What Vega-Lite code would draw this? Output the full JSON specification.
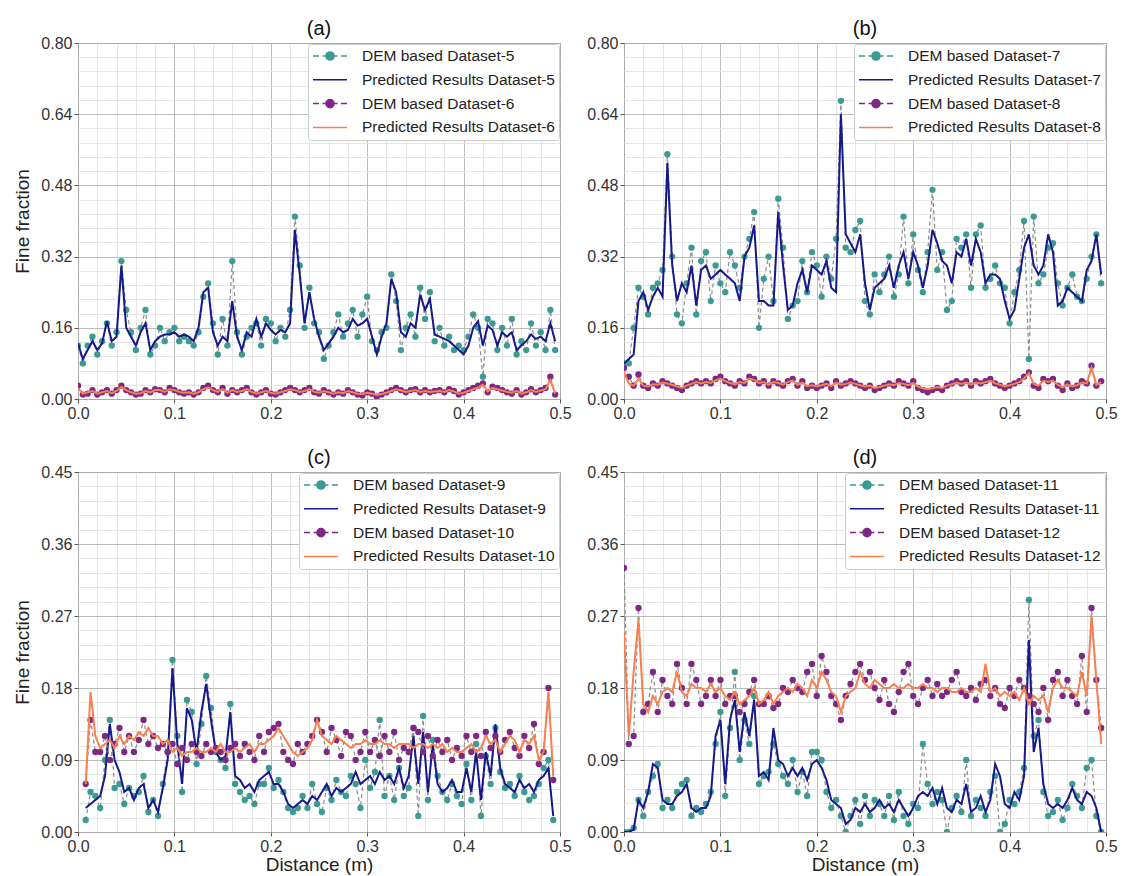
{
"$schema":"https://vega.github.io/schema/vega-lite/v6.json",
"background":"white",
"padding":{"left":13,"top":18,"right":10,"bottom":0},
"columns":2,
"spacing":{"row":73,"column":64},
"bounds":"flush",
"resolve":{"scale":{"color":"independent"},"legend":{"color":"independent"}},
"config":{
 "font":"Liberation Sans",
 "view":{"stroke":"#5a5a5a","strokeWidth":1},
 "axis":{"labelFont":"Liberation Sans","labelFontSize":16,"labelColor":"#333333","titleFont":"Liberation Sans","titleFontSize":19,"titleFontWeight":"normal","titleColor":"#222222","tickColor":"#555555","tickSize":4,"labelPadding":2,"domain":false,"gridColor":"#b4b4b4","gridWidth":0.9,"titlePadding":8},
 "title":{"font":"Liberation Sans","fontSize":20,"fontWeight":"normal","color":"#111111","offset":-4},
 "legend":{"orient":"top-right","offset":1,"fillColor":"#ffffff","strokeColor":"#cccccc","cornerRadius":3,"padding":4,"labelFont":"Liberation Sans","labelFontSize":15.5,"labelColor":"#222222","labelLimit":0,"symbolSize":1156,"clipHeight":16,"rowPadding":6.8,"labelOffset":14,"symbolStrokeWidth":1.5}
},
"datasets":{
"na":[{"k":"A","series":"DEM based Dataset-5"},{"k":"B","series":"Predicted Results Dataset-5"},{"k":"C","series":"DEM based Dataset-6"},{"k":"D","series":"Predicted Results Dataset-6"}],
"nb":[{"k":"A","series":"DEM based Dataset-7"},{"k":"B","series":"Predicted Results Dataset-7"},{"k":"C","series":"DEM based Dataset-8"},{"k":"D","series":"Predicted Results Dataset-8"}],
"nc":[{"k":"A","series":"DEM based Dataset-9"},{"k":"B","series":"Predicted Results Dataset-9"},{"k":"C","series":"DEM based Dataset-10"},{"k":"D","series":"Predicted Results Dataset-10"}],
"nd":[{"k":"A","series":"DEM based Dataset-11"},{"k":"B","series":"Predicted Results Dataset-11"},{"k":"C","series":"DEM based Dataset-12"},{"k":"D","series":"Predicted Results Dataset-12"}],
"a":[
{"x":0,"A":0.12,"B":0.125,"C":0.03,"D":0.025},
{"x":0.005,"A":0.08,"B":0.09,"C":0.01,"D":0.012},
{"x":0.01,"A":0.12,"B":0.11,"C":0.012,"D":0.015},
{"x":0.015,"A":0.14,"B":0.13,"C":0.02,"D":0.018},
{"x":0.02,"A":0.10,"B":0.11,"C":0.01,"D":0.012},
{"x":0.025,"A":0.13,"B":0.125,"C":0.015,"D":0.015},
{"x":0.03,"A":0.17,"B":0.175,"C":0.02,"D":0.018},
{"x":0.035,"A":0.12,"B":0.13,"C":0.012,"D":0.013},
{"x":0.04,"A":0.15,"B":0.14,"C":0.02,"D":0.018},
{"x":0.045,"A":0.31,"B":0.30,"C":0.03,"D":0.027},
{"x":0.05,"A":0.20,"B":0.16,"C":0.02,"D":0.02},
{"x":0.055,"A":0.15,"B":0.14,"C":0.015,"D":0.015},
{"x":0.06,"A":0.11,"B":0.12,"C":0.01,"D":0.012},
{"x":0.065,"A":0.16,"B":0.15,"C":0.012,"D":0.013},
{"x":0.07,"A":0.20,"B":0.17,"C":0.02,"D":0.018},
{"x":0.075,"A":0.10,"B":0.11,"C":0.015,"D":0.015},
{"x":0.08,"A":0.12,"B":0.13,"C":0.022,"D":0.02},
{"x":0.085,"A":0.16,"B":0.14,"C":0.02,"D":0.02},
{"x":0.09,"A":0.13,"B":0.145,"C":0.015,"D":0.016},
{"x":0.095,"A":0.15,"B":0.145,"C":0.025,"D":0.022},
{"x":0.1,"A":0.16,"B":0.15,"C":0.02,"D":0.02},
{"x":0.105,"A":0.13,"B":0.14,"C":0.015,"D":0.016},
{"x":0.11,"A":0.14,"B":0.145,"C":0.012,"D":0.014},
{"x":0.115,"A":0.13,"B":0.14,"C":0.015,"D":0.015},
{"x":0.12,"A":0.12,"B":0.13,"C":0.01,"D":0.012},
{"x":0.125,"A":0.15,"B":0.16,"C":0.015,"D":0.015},
{"x":0.13,"A":0.23,"B":0.24,"C":0.025,"D":0.022},
{"x":0.135,"A":0.26,"B":0.25,"C":0.03,"D":0.026},
{"x":0.14,"A":0.17,"B":0.15,"C":0.02,"D":0.02},
{"x":0.145,"A":0.10,"B":0.12,"C":0.015,"D":0.016},
{"x":0.15,"A":0.18,"B":0.14,"C":0.025,"D":0.022},
{"x":0.155,"A":0.12,"B":0.13,"C":0.012,"D":0.014},
{"x":0.16,"A":0.31,"B":0.22,"C":0.02,"D":0.02},
{"x":0.165,"A":0.15,"B":0.14,"C":0.015,"D":0.016},
{"x":0.17,"A":0.10,"B":0.11,"C":0.02,"D":0.018},
{"x":0.175,"A":0.14,"B":0.15,"C":0.025,"D":0.022},
{"x":0.18,"A":0.16,"B":0.14,"C":0.015,"D":0.016},
{"x":0.185,"A":0.17,"B":0.18,"C":0.01,"D":0.012},
{"x":0.19,"A":0.12,"B":0.14,"C":0.015,"D":0.015},
{"x":0.195,"A":0.18,"B":0.17,"C":0.02,"D":0.018},
{"x":0.2,"A":0.17,"B":0.155,"C":0.012,"D":0.014},
{"x":0.205,"A":0.13,"B":0.145,"C":0.01,"D":0.012},
{"x":0.21,"A":0.16,"B":0.155,"C":0.015,"D":0.015},
{"x":0.215,"A":0.14,"B":0.15,"C":0.02,"D":0.018},
{"x":0.22,"A":0.20,"B":0.17,"C":0.025,"D":0.022},
{"x":0.225,"A":0.41,"B":0.38,"C":0.02,"D":0.02},
{"x":0.23,"A":0.30,"B":0.28,"C":0.015,"D":0.016},
{"x":0.235,"A":0.16,"B":0.17,"C":0.02,"D":0.018},
{"x":0.24,"A":0.25,"B":0.24,"C":0.025,"D":0.022},
{"x":0.245,"A":0.17,"B":0.18,"C":0.015,"D":0.016},
{"x":0.25,"A":0.15,"B":0.14,"C":0.012,"D":0.014},
{"x":0.255,"A":0.09,"B":0.11,"C":0.02,"D":0.018},
{"x":0.26,"A":0.12,"B":0.125,"C":0.015,"D":0.015},
{"x":0.265,"A":0.15,"B":0.14,"C":0.01,"D":0.012},
{"x":0.27,"A":0.19,"B":0.16,"C":0.015,"D":0.015},
{"x":0.275,"A":0.14,"B":0.15,"C":0.012,"D":0.013},
{"x":0.28,"A":0.17,"B":0.155,"C":0.02,"D":0.018},
{"x":0.285,"A":0.20,"B":0.18,"C":0.015,"D":0.015},
{"x":0.29,"A":0.14,"B":0.165,"C":0.01,"D":0.012},
{"x":0.295,"A":0.19,"B":0.17,"C":0.008,"D":0.011},
{"x":0.3,"A":0.23,"B":0.18,"C":0.015,"D":0.014},
{"x":0.305,"A":0.13,"B":0.14,"C":0.012,"D":0.012},
{"x":0.31,"A":0.11,"B":0.10,"C":0.005,"D":0.009},
{"x":0.315,"A":0.15,"B":0.14,"C":0.01,"D":0.011},
{"x":0.32,"A":0.16,"B":0.17,"C":0.015,"D":0.014},
{"x":0.325,"A":0.28,"B":0.27,"C":0.02,"D":0.018},
{"x":0.33,"A":0.22,"B":0.24,"C":0.025,"D":0.022},
{"x":0.335,"A":0.11,"B":0.15,"C":0.02,"D":0.019},
{"x":0.34,"A":0.16,"B":0.14,"C":0.015,"D":0.016},
{"x":0.345,"A":0.19,"B":0.17,"C":0.02,"D":0.018},
{"x":0.35,"A":0.14,"B":0.16,"C":0.022,"D":0.02},
{"x":0.355,"A":0.25,"B":0.235,"C":0.015,"D":0.016},
{"x":0.36,"A":0.18,"B":0.20,"C":0.02,"D":0.018},
{"x":0.365,"A":0.24,"B":0.225,"C":0.015,"D":0.016},
{"x":0.37,"A":0.13,"B":0.145,"C":0.018,"D":0.017},
{"x":0.375,"A":0.16,"B":0.14,"C":0.02,"D":0.018},
{"x":0.38,"A":0.12,"B":0.135,"C":0.015,"D":0.016},
{"x":0.385,"A":0.14,"B":0.13,"C":0.022,"D":0.02},
{"x":0.39,"A":0.11,"B":0.12,"C":0.018,"D":0.017},
{"x":0.395,"A":0.12,"B":0.11,"C":0.01,"D":0.012},
{"x":0.4,"A":0.11,"B":0.10,"C":0.015,"D":0.014},
{"x":0.405,"A":0.14,"B":0.12,"C":0.02,"D":0.018},
{"x":0.41,"A":0.19,"B":0.16,"C":0.025,"D":0.022},
{"x":0.415,"A":0.16,"B":0.175,"C":0.03,"D":0.026},
{"x":0.42,"A":0.05,"B":0.12,"C":0.035,"D":0.032},
{"x":0.425,"A":0.18,"B":0.165,"C":0.015,"D":0.017},
{"x":0.43,"A":0.17,"B":0.155,"C":0.028,"D":0.025},
{"x":0.435,"A":0.11,"B":0.12,"C":0.025,"D":0.022},
{"x":0.44,"A":0.16,"B":0.15,"C":0.02,"D":0.019},
{"x":0.445,"A":0.12,"B":0.14,"C":0.015,"D":0.016},
{"x":0.45,"A":0.18,"B":0.15,"C":0.012,"D":0.014},
{"x":0.455,"A":0.10,"B":0.11,"C":0.02,"D":0.018},
{"x":0.46,"A":0.13,"B":0.12,"C":0.01,"D":0.012},
{"x":0.465,"A":0.11,"B":0.13,"C":0.015,"D":0.015},
{"x":0.47,"A":0.17,"B":0.145,"C":0.022,"D":0.02},
{"x":0.475,"A":0.12,"B":0.135,"C":0.015,"D":0.016},
{"x":0.48,"A":0.15,"B":0.14,"C":0.02,"D":0.019},
{"x":0.485,"A":0.11,"B":0.13,"C":0.025,"D":0.022},
{"x":0.49,"A":0.20,"B":0.17,"C":0.05,"D":0.042},
{"x":0.495,"A":0.11,"B":0.13,"C":0.01,"D":0.012}
],
"b":[
{"x":0,"A":0.08,"B":0.08,"C":0.07,"D":0.06},
{"x":0.005,"A":0.08,"B":0.09,"C":0.05,"D":0.035},
{"x":0.01,"A":0.16,"B":0.10,"C":0.03,"D":0.03},
{"x":0.015,"A":0.25,"B":0.22,"C":0.055,"D":0.045},
{"x":0.02,"A":0.23,"B":0.24,"C":0.03,"D":0.03},
{"x":0.025,"A":0.19,"B":0.20,"C":0.025,"D":0.028},
{"x":0.03,"A":0.25,"B":0.23,"C":0.035,"D":0.033},
{"x":0.035,"A":0.26,"B":0.25,"C":0.03,"D":0.032},
{"x":0.04,"A":0.29,"B":0.23,"C":0.04,"D":0.037},
{"x":0.045,"A":0.55,"B":0.53,"C":0.035,"D":0.035},
{"x":0.05,"A":0.32,"B":0.30,"C":0.03,"D":0.032},
{"x":0.055,"A":0.19,"B":0.22,"C":0.025,"D":0.028},
{"x":0.06,"A":0.17,"B":0.26,"C":0.02,"D":0.025},
{"x":0.065,"A":0.26,"B":0.24,"C":0.03,"D":0.03},
{"x":0.07,"A":0.34,"B":0.30,"C":0.035,"D":0.034},
{"x":0.075,"A":0.19,"B":0.21,"C":0.04,"D":0.038},
{"x":0.08,"A":0.31,"B":0.29,"C":0.035,"D":0.035},
{"x":0.085,"A":0.33,"B":0.30,"C":0.04,"D":0.038},
{"x":0.09,"A":0.22,"B":0.27,"C":0.035,"D":0.036},
{"x":0.095,"A":0.30,"B":0.28,"C":0.045,"D":0.042},
{"x":0.1,"A":0.26,"B":0.29,"C":0.05,"D":0.046},
{"x":0.105,"A":0.24,"B":0.28,"C":0.04,"D":0.04},
{"x":0.11,"A":0.33,"B":0.27,"C":0.035,"D":0.036},
{"x":0.115,"A":0.30,"B":0.26,"C":0.03,"D":0.033},
{"x":0.12,"A":0.25,"B":0.22,"C":0.04,"D":0.038},
{"x":0.125,"A":0.32,"B":0.32,"C":0.035,"D":0.036},
{"x":0.13,"A":0.36,"B":0.34,"C":0.05,"D":0.046},
{"x":0.135,"A":0.42,"B":0.39,"C":0.045,"D":0.043},
{"x":0.14,"A":0.16,"B":0.22,"C":0.035,"D":0.036},
{"x":0.145,"A":0.27,"B":0.22,"C":0.04,"D":0.038},
{"x":0.15,"A":0.32,"B":0.21,"C":0.03,"D":0.032},
{"x":0.155,"A":0.22,"B":0.21,"C":0.04,"D":0.038},
{"x":0.16,"A":0.45,"B":0.42,"C":0.035,"D":0.036},
{"x":0.165,"A":0.34,"B":0.30,"C":0.03,"D":0.032},
{"x":0.17,"A":0.18,"B":0.20,"C":0.04,"D":0.038},
{"x":0.175,"A":0.21,"B":0.21,"C":0.045,"D":0.042},
{"x":0.18,"A":0.22,"B":0.26,"C":0.03,"D":0.032},
{"x":0.185,"A":0.31,"B":0.29,"C":0.04,"D":0.037},
{"x":0.19,"A":0.24,"B":0.24,"C":0.025,"D":0.029},
{"x":0.195,"A":0.33,"B":0.30,"C":0.03,"D":0.031},
{"x":0.2,"A":0.30,"B":0.29,"C":0.025,"D":0.028},
{"x":0.205,"A":0.23,"B":0.28,"C":0.03,"D":0.031},
{"x":0.21,"A":0.32,"B":0.31,"C":0.035,"D":0.034},
{"x":0.215,"A":0.27,"B":0.25,"C":0.025,"D":0.029},
{"x":0.22,"A":0.36,"B":0.24,"C":0.04,"D":0.037},
{"x":0.225,"A":0.67,"B":0.64,"C":0.03,"D":0.032},
{"x":0.23,"A":0.34,"B":0.37,"C":0.035,"D":0.034},
{"x":0.235,"A":0.33,"B":0.35,"C":0.04,"D":0.037},
{"x":0.24,"A":0.38,"B":0.33,"C":0.035,"D":0.034},
{"x":0.245,"A":0.40,"B":0.37,"C":0.03,"D":0.031},
{"x":0.25,"A":0.22,"B":0.26,"C":0.025,"D":0.028},
{"x":0.255,"A":0.19,"B":0.20,"C":0.03,"D":0.03},
{"x":0.26,"A":0.28,"B":0.25,"C":0.02,"D":0.025},
{"x":0.265,"A":0.24,"B":0.26,"C":0.025,"D":0.027},
{"x":0.27,"A":0.28,"B":0.27,"C":0.03,"D":0.03},
{"x":0.275,"A":0.32,"B":0.30,"C":0.035,"D":0.033},
{"x":0.28,"A":0.23,"B":0.25,"C":0.03,"D":0.031},
{"x":0.285,"A":0.28,"B":0.30,"C":0.04,"D":0.036},
{"x":0.29,"A":0.41,"B":0.33,"C":0.035,"D":0.034},
{"x":0.295,"A":0.26,"B":0.27,"C":0.03,"D":0.031},
{"x":0.3,"A":0.37,"B":0.33,"C":0.04,"D":0.036},
{"x":0.305,"A":0.29,"B":0.30,"C":0.025,"D":0.028},
{"x":0.31,"A":0.24,"B":0.25,"C":0.02,"D":0.024},
{"x":0.315,"A":0.33,"B":0.30,"C":0.015,"D":0.022},
{"x":0.32,"A":0.47,"B":0.38,"C":0.02,"D":0.024},
{"x":0.325,"A":0.29,"B":0.35,"C":0.025,"D":0.027},
{"x":0.33,"A":0.33,"B":0.31,"C":0.02,"D":0.025},
{"x":0.335,"A":0.20,"B":0.30,"C":0.03,"D":0.03},
{"x":0.34,"A":0.22,"B":0.26,"C":0.035,"D":0.033},
{"x":0.345,"A":0.36,"B":0.33,"C":0.04,"D":0.037},
{"x":0.35,"A":0.34,"B":0.32,"C":0.035,"D":0.034},
{"x":0.355,"A":0.37,"B":0.36,"C":0.04,"D":0.037},
{"x":0.36,"A":0.25,"B":0.30,"C":0.03,"D":0.032},
{"x":0.365,"A":0.37,"B":0.36,"C":0.04,"D":0.037},
{"x":0.37,"A":0.39,"B":0.33,"C":0.035,"D":0.035},
{"x":0.375,"A":0.25,"B":0.26,"C":0.04,"D":0.038},
{"x":0.38,"A":0.27,"B":0.28,"C":0.045,"D":0.041},
{"x":0.385,"A":0.30,"B":0.28,"C":0.035,"D":0.035},
{"x":0.39,"A":0.26,"B":0.27,"C":0.03,"D":0.032},
{"x":0.395,"A":0.25,"B":0.22,"C":0.025,"D":0.028},
{"x":0.4,"A":0.17,"B":0.18,"C":0.03,"D":0.031},
{"x":0.405,"A":0.24,"B":0.20,"C":0.035,"D":0.034},
{"x":0.41,"A":0.29,"B":0.27,"C":0.04,"D":0.038},
{"x":0.415,"A":0.40,"B":0.34,"C":0.05,"D":0.046},
{"x":0.42,"A":0.09,"B":0.37,"C":0.06,"D":0.058},
{"x":0.425,"A":0.41,"B":0.30,"C":0.03,"D":0.034},
{"x":0.43,"A":0.26,"B":0.28,"C":0.025,"D":0.03},
{"x":0.435,"A":0.28,"B":0.30,"C":0.045,"D":0.041},
{"x":0.44,"A":0.34,"B":0.37,"C":0.04,"D":0.039},
{"x":0.445,"A":0.35,"B":0.33,"C":0.045,"D":0.041},
{"x":0.45,"A":0.26,"B":0.21,"C":0.03,"D":0.032},
{"x":0.455,"A":0.21,"B":0.22,"C":0.02,"D":0.026},
{"x":0.46,"A":0.25,"B":0.25,"C":0.035,"D":0.033},
{"x":0.465,"A":0.28,"B":0.24,"C":0.025,"D":0.028},
{"x":0.47,"A":0.23,"B":0.23,"C":0.03,"D":0.031},
{"x":0.475,"A":0.22,"B":0.22,"C":0.04,"D":0.037},
{"x":0.48,"A":0.27,"B":0.29,"C":0.035,"D":0.035},
{"x":0.485,"A":0.32,"B":0.31,"C":0.075,"D":0.07},
{"x":0.49,"A":0.37,"B":0.37,"C":0.03,"D":0.032},
{"x":0.495,"A":0.26,"B":0.28,"C":0.04,"D":0.038}
],
"c":[
{"x":0.008,"A":0.015,"B":0.03,"C":0.06,"D":0.06},
{"x":0.013,"A":0.05,"B":0.035,"C":0.14,"D":0.175},
{"x":0.018,"A":0.045,"B":0.04,"C":0.1,"D":0.12},
{"x":0.023,"A":0.03,"B":0.045,"C":0.1,"D":0.105},
{"x":0.028,"A":0.09,"B":0.07,"C":0.12,"D":0.11},
{"x":0.033,"A":0.14,"B":0.135,"C":0.09,"D":0.115},
{"x":0.038,"A":0.055,"B":0.09,"C":0.11,"D":0.105},
{"x":0.043,"A":0.06,"B":0.075,"C":0.13,"D":0.12},
{"x":0.048,"A":0.035,"B":0.05,"C":0.1,"D":0.11},
{"x":0.053,"A":0.055,"B":0.055,"C":0.12,"D":0.12},
{"x":0.058,"A":0.045,"B":0.04,"C":0.1,"D":0.115},
{"x":0.063,"A":0.05,"B":0.055,"C":0.115,"D":0.125},
{"x":0.068,"A":0.07,"B":0.06,"C":0.14,"D":0.12},
{"x":0.073,"A":0.025,"B":0.03,"C":0.11,"D":0.13},
{"x":0.078,"A":0.04,"B":0.04,"C":0.12,"D":0.12},
{"x":0.083,"A":0.02,"B":0.025,"C":0.105,"D":0.12},
{"x":0.088,"A":0.06,"B":0.055,"C":0.11,"D":0.11},
{"x":0.093,"A":0.1,"B":0.09,"C":0.1,"D":0.115},
{"x":0.098,"A":0.215,"B":0.205,"C":0.11,"D":0.1},
{"x":0.103,"A":0.12,"B":0.11,"C":0.085,"D":0.105},
{"x":0.108,"A":0.05,"B":0.06,"C":0.105,"D":0.095},
{"x":0.113,"A":0.165,"B":0.155,"C":0.09,"D":0.1},
{"x":0.118,"A":0.15,"B":0.14,"C":0.11,"D":0.1},
{"x":0.123,"A":0.085,"B":0.1,"C":0.1,"D":0.105},
{"x":0.128,"A":0.135,"B":0.15,"C":0.095,"D":0.1},
{"x":0.133,"A":0.195,"B":0.185,"C":0.11,"D":0.1},
{"x":0.138,"A":0.155,"B":0.14,"C":0.1,"D":0.105},
{"x":0.143,"A":0.1,"B":0.1,"C":0.105,"D":0.1},
{"x":0.148,"A":0.09,"B":0.09,"C":0.1,"D":0.11},
{"x":0.153,"A":0.08,"B":0.095,"C":0.09,"D":0.1},
{"x":0.158,"A":0.16,"B":0.15,"C":0.105,"D":0.1},
{"x":0.163,"A":0.06,"B":0.07,"C":0.11,"D":0.105},
{"x":0.168,"A":0.05,"B":0.065,"C":0.095,"D":0.1},
{"x":0.173,"A":0.04,"B":0.055,"C":0.11,"D":0.105},
{"x":0.178,"A":0.045,"B":0.06,"C":0.1,"D":0.11},
{"x":0.183,"A":0.035,"B":0.05,"C":0.09,"D":0.1},
{"x":0.188,"A":0.06,"B":0.065,"C":0.12,"D":0.11},
{"x":0.193,"A":0.06,"B":0.07,"C":0.1,"D":0.11},
{"x":0.198,"A":0.08,"B":0.075,"C":0.125,"D":0.115},
{"x":0.203,"A":0.055,"B":0.06,"C":0.13,"D":0.12},
{"x":0.208,"A":0.065,"B":0.06,"C":0.135,"D":0.13},
{"x":0.213,"A":0.05,"B":0.05,"C":0.1,"D":0.12},
{"x":0.218,"A":0.03,"B":0.035,"C":0.09,"D":0.11},
{"x":0.223,"A":0.025,"B":0.03,"C":0.085,"D":0.1},
{"x":0.228,"A":0.03,"B":0.035,"C":0.11,"D":0.095},
{"x":0.233,"A":0.045,"B":0.04,"C":0.1,"D":0.1},
{"x":0.238,"A":0.03,"B":0.035,"C":0.11,"D":0.105},
{"x":0.243,"A":0.06,"B":0.045,"C":0.12,"D":0.115},
{"x":0.248,"A":0.035,"B":0.04,"C":0.14,"D":0.14},
{"x":0.253,"A":0.025,"B":0.05,"C":0.125,"D":0.12},
{"x":0.258,"A":0.055,"B":0.06,"C":0.1,"D":0.115},
{"x":0.263,"A":0.04,"B":0.045,"C":0.13,"D":0.11},
{"x":0.268,"A":0.065,"B":0.055,"C":0.115,"D":0.12},
{"x":0.273,"A":0.05,"B":0.05,"C":0.095,"D":0.115},
{"x":0.278,"A":0.045,"B":0.055,"C":0.125,"D":0.11},
{"x":0.283,"A":0.07,"B":0.06,"C":0.12,"D":0.105},
{"x":0.288,"A":0.06,"B":0.075,"C":0.09,"D":0.11},
{"x":0.293,"A":0.03,"B":0.06,"C":0.1,"D":0.11},
{"x":0.298,"A":0.09,"B":0.065,"C":0.125,"D":0.115},
{"x":0.303,"A":0.055,"B":0.07,"C":0.1,"D":0.11},
{"x":0.308,"A":0.075,"B":0.06,"C":0.115,"D":0.11},
{"x":0.313,"A":0.14,"B":0.075,"C":0.095,"D":0.115},
{"x":0.318,"A":0.045,"B":0.065,"C":0.12,"D":0.11},
{"x":0.323,"A":0.07,"B":0.07,"C":0.1,"D":0.11},
{"x":0.328,"A":0.04,"B":0.06,"C":0.125,"D":0.105},
{"x":0.333,"A":0.08,"B":0.08,"C":0.09,"D":0.11},
{"x":0.338,"A":0.045,"B":0.055,"C":0.105,"D":0.11},
{"x":0.343,"A":0.055,"B":0.07,"C":0.1,"D":0.11},
{"x":0.348,"A":0.13,"B":0.12,"C":0.13,"D":0.105},
{"x":0.353,"A":0.02,"B":0.06,"C":0.125,"D":0.11},
{"x":0.358,"A":0.145,"B":0.125,"C":0.1,"D":0.11},
{"x":0.363,"A":0.04,"B":0.05,"C":0.12,"D":0.105},
{"x":0.368,"A":0.115,"B":0.11,"C":0.095,"D":0.11},
{"x":0.373,"A":0.07,"B":0.06,"C":0.115,"D":0.105},
{"x":0.378,"A":0.05,"B":0.05,"C":0.1,"D":0.11},
{"x":0.383,"A":0.04,"B":0.055,"C":0.115,"D":0.1},
{"x":0.388,"A":0.06,"B":0.065,"C":0.09,"D":0.105},
{"x":0.393,"A":0.045,"B":0.05,"C":0.105,"D":0.1},
{"x":0.398,"A":0.035,"B":0.05,"C":0.095,"D":0.1},
{"x":0.403,"A":0.085,"B":0.08,"C":0.12,"D":0.105},
{"x":0.408,"A":0.04,"B":0.05,"C":0.1,"D":0.11},
{"x":0.413,"A":0.11,"B":0.1,"C":0.12,"D":0.1},
{"x":0.418,"A":0.02,"B":0.04,"C":0.095,"D":0.105},
{"x":0.423,"A":0.095,"B":0.1,"C":0.125,"D":0.12},
{"x":0.428,"A":0.06,"B":0.07,"C":0.105,"D":0.11},
{"x":0.433,"A":0.13,"B":0.135,"C":0.12,"D":0.115},
{"x":0.438,"A":0.075,"B":0.08,"C":0.1,"D":0.1},
{"x":0.443,"A":0.055,"B":0.06,"C":0.115,"D":0.11},
{"x":0.448,"A":0.06,"B":0.055,"C":0.125,"D":0.12},
{"x":0.453,"A":0.045,"B":0.05,"C":0.105,"D":0.115},
{"x":0.458,"A":0.07,"B":0.065,"C":0.095,"D":0.1},
{"x":0.463,"A":0.05,"B":0.055,"C":0.12,"D":0.115},
{"x":0.468,"A":0.04,"B":0.06,"C":0.105,"D":0.11},
{"x":0.473,"A":0.045,"B":0.05,"C":0.135,"D":0.12},
{"x":0.478,"A":0.06,"B":0.065,"C":0.085,"D":0.09},
{"x":0.483,"A":0.08,"B":0.07,"C":0.1,"D":0.1},
{"x":0.488,"A":0.09,"B":0.08,"C":0.18,"D":0.175},
{"x":0.493,"A":0.015,"B":0.02,"C":0.065,"D":0.07}
],
"d":[
{"x":0,"A":0,"B":0,"C":0.33,"D":0.25},
{"x":0.005,"A":0,"B":0,"C":0.11,"D":0.12},
{"x":0.01,"A":0.005,"B":0.003,"C":0.12,"D":0.2},
{"x":0.015,"A":0.04,"B":0.04,"C":0.28,"D":0.265},
{"x":0.02,"A":0.02,"B":0.03,"C":0.15,"D":0.16},
{"x":0.025,"A":0.05,"B":0.05,"C":0.16,"D":0.15},
{"x":0.03,"A":0.07,"B":0.085,"C":0.2,"D":0.17},
{"x":0.035,"A":0.085,"B":0.08,"C":0.15,"D":0.16},
{"x":0.04,"A":0.03,"B":0.04,"C":0.19,"D":0.175},
{"x":0.045,"A":0.04,"B":0.035,"C":0.17,"D":0.18},
{"x":0.05,"A":0.03,"B":0.035,"C":0.16,"D":0.175},
{"x":0.055,"A":0.05,"B":0.045,"C":0.21,"D":0.2},
{"x":0.06,"A":0.06,"B":0.05,"C":0.18,"D":0.175},
{"x":0.065,"A":0.065,"B":0.06,"C":0.16,"D":0.17},
{"x":0.07,"A":0.02,"B":0.03,"C":0.21,"D":0.185},
{"x":0.075,"A":0.03,"B":0.025,"C":0.19,"D":0.18},
{"x":0.08,"A":0.025,"B":0.03,"C":0.16,"D":0.18},
{"x":0.085,"A":0.035,"B":0.03,"C":0.17,"D":0.175},
{"x":0.09,"A":0.05,"B":0.045,"C":0.19,"D":0.185},
{"x":0.095,"A":0.11,"B":0.12,"C":0.17,"D":0.175},
{"x":0.1,"A":0.15,"B":0.14,"C":0.19,"D":0.18},
{"x":0.105,"A":0.045,"B":0.06,"C":0.16,"D":0.17},
{"x":0.11,"A":0.13,"B":0.14,"C":0.17,"D":0.165},
{"x":0.115,"A":0.2,"B":0.165,"C":0.17,"D":0.175},
{"x":0.12,"A":0.09,"B":0.1,"C":0.15,"D":0.16},
{"x":0.125,"A":0.14,"B":0.15,"C":0.16,"D":0.165},
{"x":0.13,"A":0.11,"B":0.12,"C":0.175,"D":0.17},
{"x":0.135,"A":0.17,"B":0.165,"C":0.19,"D":0.18},
{"x":0.14,"A":0.06,"B":0.07,"C":0.16,"D":0.16},
{"x":0.145,"A":0.07,"B":0.075,"C":0.16,"D":0.165},
{"x":0.15,"A":0.075,"B":0.065,"C":0.17,"D":0.175},
{"x":0.155,"A":0.11,"B":0.13,"C":0.155,"D":0.16},
{"x":0.16,"A":0.085,"B":0.09,"C":0.16,"D":0.17},
{"x":0.165,"A":0.07,"B":0.085,"C":0.18,"D":0.175},
{"x":0.17,"A":0.06,"B":0.07,"C":0.175,"D":0.18},
{"x":0.175,"A":0.09,"B":0.08,"C":0.19,"D":0.175},
{"x":0.18,"A":0.05,"B":0.07,"C":0.18,"D":0.185},
{"x":0.185,"A":0.075,"B":0.08,"C":0.175,"D":0.18},
{"x":0.19,"A":0.045,"B":0.065,"C":0.2,"D":0.17},
{"x":0.195,"A":0.1,"B":0.085,"C":0.21,"D":0.19},
{"x":0.2,"A":0.1,"B":0.09,"C":0.17,"D":0.18},
{"x":0.205,"A":0.09,"B":0.08,"C":0.22,"D":0.2},
{"x":0.21,"A":0.05,"B":0.065,"C":0.2,"D":0.19},
{"x":0.215,"A":0.03,"B":0.04,"C":0.17,"D":0.175},
{"x":0.22,"A":0.04,"B":0.035,"C":0.16,"D":0.17},
{"x":0.225,"A":0.02,"B":0.03,"C":0.14,"D":0.15},
{"x":0.23,"A":0,"B":0.01,"C":0.17,"D":0.17},
{"x":0.235,"A":0.02,"B":0.015,"C":0.185,"D":0.175},
{"x":0.24,"A":0.04,"B":0.03,"C":0.2,"D":0.18},
{"x":0.245,"A":0.01,"B":0.025,"C":0.21,"D":0.2},
{"x":0.25,"A":0.045,"B":0.035,"C":0.19,"D":0.185},
{"x":0.255,"A":0.02,"B":0.025,"C":0.2,"D":0.18},
{"x":0.26,"A":0.04,"B":0.03,"C":0.18,"D":0.19},
{"x":0.265,"A":0.035,"B":0.04,"C":0.165,"D":0.185},
{"x":0.27,"A":0.02,"B":0.03,"C":0.19,"D":0.18},
{"x":0.275,"A":0.045,"B":0.035,"C":0.16,"D":0.18},
{"x":0.28,"A":0.015,"B":0.025,"C":0.15,"D":0.185},
{"x":0.285,"A":0.05,"B":0.04,"C":0.175,"D":0.18},
{"x":0.29,"A":0.02,"B":0.03,"C":0.2,"D":0.18},
{"x":0.295,"A":0.01,"B":0.02,"C":0.21,"D":0.185},
{"x":0.3,"A":0.035,"B":0.03,"C":0.17,"D":0.18},
{"x":0.305,"A":0.03,"B":0.045,"C":0.16,"D":0.18},
{"x":0.31,"A":0.11,"B":0.05,"C":0.18,"D":0.185},
{"x":0.315,"A":0.06,"B":0.045,"C":0.19,"D":0.18},
{"x":0.32,"A":0.035,"B":0.055,"C":0.17,"D":0.18},
{"x":0.325,"A":0.05,"B":0.035,"C":0.185,"D":0.175},
{"x":0.33,"A":0.04,"B":0.055,"C":0.17,"D":0.18},
{"x":0.335,"A":0,"B":0.03,"C":0.175,"D":0.18},
{"x":0.34,"A":0.03,"B":0.025,"C":0.19,"D":0.175},
{"x":0.345,"A":0.045,"B":0.04,"C":0.2,"D":0.175},
{"x":0.35,"A":0.025,"B":0.035,"C":0.175,"D":0.18},
{"x":0.355,"A":0.09,"B":0.06,"C":0.17,"D":0.175},
{"x":0.36,"A":0.02,"B":0.025,"C":0.18,"D":0.175},
{"x":0.365,"A":0.04,"B":0.03,"C":0.165,"D":0.18},
{"x":0.37,"A":0.03,"B":0.045,"C":0.185,"D":0.175},
{"x":0.375,"A":0.02,"B":0.025,"C":0.19,"D":0.21},
{"x":0.38,"A":0.05,"B":0.04,"C":0.17,"D":0.175},
{"x":0.385,"A":0.07,"B":0.085,"C":0.18,"D":0.18},
{"x":0.39,"A":0,"B":0.07,"C":0.16,"D":0.17},
{"x":0.395,"A":0.01,"B":0.035,"C":0.155,"D":0.175},
{"x":0.4,"A":0.04,"B":0.03,"C":0.18,"D":0.17},
{"x":0.405,"A":0.035,"B":0.05,"C":0.17,"D":0.175},
{"x":0.41,"A":0.05,"B":0.04,"C":0.19,"D":0.165},
{"x":0.415,"A":0.08,"B":0.07,"C":0.18,"D":0.18},
{"x":0.42,"A":0.29,"B":0.24,"C":0.17,"D":0.16},
{"x":0.425,"A":0.12,"B":0.1,"C":0.16,"D":0.17},
{"x":0.43,"A":0.14,"B":0.13,"C":0.15,"D":0.165},
{"x":0.435,"A":0.05,"B":0.06,"C":0.18,"D":0.17},
{"x":0.44,"A":0.02,"B":0.035,"C":0.14,"D":0.15},
{"x":0.445,"A":0.025,"B":0.03,"C":0.19,"D":0.18},
{"x":0.45,"A":0.04,"B":0.035,"C":0.2,"D":0.19},
{"x":0.455,"A":0.015,"B":0.03,"C":0.17,"D":0.18},
{"x":0.46,"A":0.03,"B":0.04,"C":0.19,"D":0.18},
{"x":0.465,"A":0.06,"B":0.055,"C":0.17,"D":0.175},
{"x":0.47,"A":0.045,"B":0.04,"C":0.16,"D":0.17},
{"x":0.475,"A":0.03,"B":0.035,"C":0.22,"D":0.2},
{"x":0.48,"A":0.08,"B":0.05,"C":0.15,"D":0.17},
{"x":0.485,"A":0.09,"B":0.045,"C":0.28,"D":0.27},
{"x":0.49,"A":0.02,"B":0.03,"C":0.19,"D":0.19},
{"x":0.495,"A":0,"B":0,"C":0.13,"D":0.11}
]
},
"concat":[
{"width":482,"height":356,"title":{"text":"(a)"},"data":{"name":"a"},
 "transform":[{"fold":["A","B","C","D"],"as":["k","v"]},{"lookup":"k","from":{"data":{"name":"na"},"key":"k","fields":["series"]}}],
 "resolve":{"axis":{"x":"independent","y":"independent"}},
 "layer":[
  {"transform":[{"filter":"datum.k == 'A'"}],"mark":{"type":"line","color":"#8c8c8c","strokeDash":[4,3],"strokeWidth":1.2,"clip":true},
   "encoding":{"x":{"field":"x","type":"quantitative","scale":{"domain":[0,0.5],"nice":false},"axis":{"orient":"top","values":[0.02,0.04,0.06,0.08,0.12,0.14,0.16,0.18,0.22,0.24,0.26,0.28,0.32,0.34,0.36,0.38,0.42,0.44,0.46,0.48],"labels":false,"ticks":false,"domain":false,"title":null,"grid":true,"gridColor":"#e3e3e3","minExtent":0,"maxExtent":0}},
    "y":{"field":"v","type":"quantitative","scale":{"domain":[0,0.8],"nice":false},"axis":{"orient":"right","values":[0.032,0.064,0.096,0.128,0.192,0.224,0.256,0.288,0.352,0.384,0.416,0.448,0.512,0.544,0.576,0.608,0.672,0.704,0.736,0.768],"labels":false,"ticks":false,"domain":false,"title":null,"grid":true,"gridColor":"#e3e3e3","minExtent":0,"maxExtent":0}}}},
  {"transform":[{"filter":"datum.k == 'A'"}],"mark":{"type":"point","filled":true,"size":40,"opacity":1,"clip":true},
   "encoding":{"x":{"field":"x","type":"quantitative","axis":null},"y":{"field":"v","type":"quantitative","axis":null},
    "color":{"field":"series","type":"nominal","scale":{"domain":["DEM based Dataset-5","Predicted Results Dataset-5","DEM based Dataset-6","Predicted Results Dataset-6"],"range":["#3b9a93","#16198c","#7d2885","#fb7f4e"]},
     "legend":{"title":null,"encode":{"symbols":{"update":{"shape":{"signal":"test(/DEM/, datum.value) ? 'M-1,0H-0.64M-0.44,0H-0.2M0.2,0H0.44M0.64,0H1M0.24,0A0.24,0.24 0 1 1 -0.24,0A0.24,0.24 0 1 1 0.24,0Z' : 'M-1,0H1'"},"fill":{"signal":"test(/DEM/, datum.value) ? (test(/(5|7|9|11)$/, datum.value) ? '#3b9a93' : '#7d2885') : 'transparent'"},"stroke":{"signal":"test(/DEM/, datum.value) ? '#8c8c8c' : (test(/(5|7|9|11)$/, datum.value) ? '#16198c' : '#fb7f4e')"},"strokeWidth":{"value":1.5},"opacity":{"value":1}}}}}}}},
  {"transform":[{"filter":"datum.k == 'B'"}],"mark":{"type":"line","strokeWidth":2,"clip":true},
   "encoding":{"x":{"field":"x","type":"quantitative","axis":{"orient":"bottom","values":[0,0.1,0.2,0.3,0.4,0.5],"format":".1f","title":null,"labelFlush":false,"grid":true}},
    "y":{"field":"v","type":"quantitative","axis":{"orient":"left","values":[0,0.16,0.32,0.48,0.64,0.8],"format":".2f","title":"Fine fraction","grid":true}},
    "color":{"field":"series","type":"nominal","scale":{"domain":["DEM based Dataset-5","Predicted Results Dataset-5","DEM based Dataset-6","Predicted Results Dataset-6"],"range":["#3b9a93","#16198c","#7d2885","#fb7f4e"]},
     "legend":{"title":null,"encode":{"symbols":{"update":{"shape":{"signal":"test(/DEM/, datum.value) ? 'M-1,0H-0.64M-0.44,0H-0.2M0.2,0H0.44M0.64,0H1M0.24,0A0.24,0.24 0 1 1 -0.24,0A0.24,0.24 0 1 1 0.24,0Z' : 'M-1,0H1'"},"fill":{"signal":"test(/DEM/, datum.value) ? (test(/(5|7|9|11)$/, datum.value) ? '#3b9a93' : '#7d2885') : 'transparent'"},"stroke":{"signal":"test(/DEM/, datum.value) ? '#8c8c8c' : (test(/(5|7|9|11)$/, datum.value) ? '#16198c' : '#fb7f4e')"},"strokeWidth":{"value":1.5},"opacity":{"value":1}}}}}}}},
  {"transform":[{"filter":"datum.k == 'C'"}],"mark":{"type":"line","color":"#8c8c8c","strokeDash":[4,3],"strokeWidth":1.2,"clip":true},
   "encoding":{"x":{"field":"x","type":"quantitative","axis":null},"y":{"field":"v","type":"quantitative","axis":null}}},
  {"transform":[{"filter":"datum.k == 'C'"}],"mark":{"type":"point","filled":true,"size":40,"opacity":1,"clip":true},
   "encoding":{"x":{"field":"x","type":"quantitative","axis":null},"y":{"field":"v","type":"quantitative","axis":null},
    "color":{"field":"series","type":"nominal","legend":null}}},
  {"transform":[{"filter":"datum.k == 'D'"}],"mark":{"type":"line","strokeWidth":2,"clip":true},
   "encoding":{"x":{"field":"x","type":"quantitative","axis":null},"y":{"field":"v","type":"quantitative","axis":null},
    "color":{"field":"series","type":"nominal","legend":null}}}
 ]},
{"width":482,"height":356,"title":{"text":"(b)"},"data":{"name":"b"},
 "transform":[{"fold":["A","B","C","D"],"as":["k","v"]},{"lookup":"k","from":{"data":{"name":"nb"},"key":"k","fields":["series"]}}],
 "resolve":{"axis":{"x":"independent","y":"independent"}},
 "layer":[
  {"transform":[{"filter":"datum.k == 'A'"}],"mark":{"type":"line","color":"#8c8c8c","strokeDash":[4,3],"strokeWidth":1.2,"clip":true},
   "encoding":{"x":{"field":"x","type":"quantitative","scale":{"domain":[0,0.5],"nice":false},"axis":{"orient":"top","values":[0.02,0.04,0.06,0.08,0.12,0.14,0.16,0.18,0.22,0.24,0.26,0.28,0.32,0.34,0.36,0.38,0.42,0.44,0.46,0.48],"labels":false,"ticks":false,"domain":false,"title":null,"grid":true,"gridColor":"#e3e3e3","minExtent":0,"maxExtent":0}},
    "y":{"field":"v","type":"quantitative","scale":{"domain":[0,0.8],"nice":false},"axis":{"orient":"right","values":[0.032,0.064,0.096,0.128,0.192,0.224,0.256,0.288,0.352,0.384,0.416,0.448,0.512,0.544,0.576,0.608,0.672,0.704,0.736,0.768],"labels":false,"ticks":false,"domain":false,"title":null,"grid":true,"gridColor":"#e3e3e3","minExtent":0,"maxExtent":0}}}},
  {"transform":[{"filter":"datum.k == 'A'"}],"mark":{"type":"point","filled":true,"size":40,"opacity":1,"clip":true},
   "encoding":{"x":{"field":"x","type":"quantitative","axis":null},"y":{"field":"v","type":"quantitative","axis":null},
    "color":{"field":"series","type":"nominal","scale":{"domain":["DEM based Dataset-7","Predicted Results Dataset-7","DEM based Dataset-8","Predicted Results Dataset-8"],"range":["#3b9a93","#16198c","#7d2885","#fb7f4e"]},
     "legend":{"title":null,"encode":{"symbols":{"update":{"shape":{"signal":"test(/DEM/, datum.value) ? 'M-1,0H-0.64M-0.44,0H-0.2M0.2,0H0.44M0.64,0H1M0.24,0A0.24,0.24 0 1 1 -0.24,0A0.24,0.24 0 1 1 0.24,0Z' : 'M-1,0H1'"},"fill":{"signal":"test(/DEM/, datum.value) ? (test(/(5|7|9|11)$/, datum.value) ? '#3b9a93' : '#7d2885') : 'transparent'"},"stroke":{"signal":"test(/DEM/, datum.value) ? '#8c8c8c' : (test(/(5|7|9|11)$/, datum.value) ? '#16198c' : '#fb7f4e')"},"strokeWidth":{"value":1.5},"opacity":{"value":1}}}}}}}},
  {"transform":[{"filter":"datum.k == 'B'"}],"mark":{"type":"line","strokeWidth":2,"clip":true},
   "encoding":{"x":{"field":"x","type":"quantitative","axis":{"orient":"bottom","values":[0,0.1,0.2,0.3,0.4,0.5],"format":".1f","title":null,"labelFlush":false,"grid":true}},
    "y":{"field":"v","type":"quantitative","axis":{"orient":"left","values":[0,0.16,0.32,0.48,0.64,0.8],"format":".2f","title":null,"grid":true}},
    "color":{"field":"series","type":"nominal","scale":{"domain":["DEM based Dataset-7","Predicted Results Dataset-7","DEM based Dataset-8","Predicted Results Dataset-8"],"range":["#3b9a93","#16198c","#7d2885","#fb7f4e"]},
     "legend":{"title":null,"encode":{"symbols":{"update":{"shape":{"signal":"test(/DEM/, datum.value) ? 'M-1,0H-0.64M-0.44,0H-0.2M0.2,0H0.44M0.64,0H1M0.24,0A0.24,0.24 0 1 1 -0.24,0A0.24,0.24 0 1 1 0.24,0Z' : 'M-1,0H1'"},"fill":{"signal":"test(/DEM/, datum.value) ? (test(/(5|7|9|11)$/, datum.value) ? '#3b9a93' : '#7d2885') : 'transparent'"},"stroke":{"signal":"test(/DEM/, datum.value) ? '#8c8c8c' : (test(/(5|7|9|11)$/, datum.value) ? '#16198c' : '#fb7f4e')"},"strokeWidth":{"value":1.5},"opacity":{"value":1}}}}}}}},
  {"transform":[{"filter":"datum.k == 'C'"}],"mark":{"type":"line","color":"#8c8c8c","strokeDash":[4,3],"strokeWidth":1.2,"clip":true},
   "encoding":{"x":{"field":"x","type":"quantitative","axis":null},"y":{"field":"v","type":"quantitative","axis":null}}},
  {"transform":[{"filter":"datum.k == 'C'"}],"mark":{"type":"point","filled":true,"size":40,"opacity":1,"clip":true},
   "encoding":{"x":{"field":"x","type":"quantitative","axis":null},"y":{"field":"v","type":"quantitative","axis":null},
    "color":{"field":"series","type":"nominal","legend":null}}},
  {"transform":[{"filter":"datum.k == 'D'"}],"mark":{"type":"line","strokeWidth":2,"clip":true},
   "encoding":{"x":{"field":"x","type":"quantitative","axis":null},"y":{"field":"v","type":"quantitative","axis":null},
    "color":{"field":"series","type":"nominal","legend":null}}}
 ]},
{"width":482,"height":360,"title":{"text":"(c)"},"data":{"name":"c"},
 "transform":[{"fold":["A","B","C","D"],"as":["k","v"]},{"lookup":"k","from":{"data":{"name":"nc"},"key":"k","fields":["series"]}}],
 "resolve":{"axis":{"x":"independent","y":"independent"}},
 "layer":[
  {"transform":[{"filter":"datum.k == 'A'"}],"mark":{"type":"line","color":"#8c8c8c","strokeDash":[4,3],"strokeWidth":1.2,"clip":true},
   "encoding":{"x":{"field":"x","type":"quantitative","scale":{"domain":[0,0.5],"nice":false},"axis":{"orient":"top","values":[0.02,0.04,0.06,0.08,0.12,0.14,0.16,0.18,0.22,0.24,0.26,0.28,0.32,0.34,0.36,0.38,0.42,0.44,0.46,0.48],"labels":false,"ticks":false,"domain":false,"title":null,"grid":true,"gridColor":"#e3e3e3","minExtent":0,"maxExtent":0}},
    "y":{"field":"v","type":"quantitative","scale":{"domain":[0,0.45],"nice":false},"axis":{"orient":"right","values":[0.018,0.036,0.054,0.072,0.108,0.126,0.144,0.162,0.198,0.216,0.234,0.252,0.288,0.306,0.324,0.342,0.378,0.396,0.414,0.432],"labels":false,"ticks":false,"domain":false,"title":null,"grid":true,"gridColor":"#e3e3e3","minExtent":0,"maxExtent":0}}}},
  {"transform":[{"filter":"datum.k == 'A'"}],"mark":{"type":"point","filled":true,"size":40,"opacity":1,"clip":true},
   "encoding":{"x":{"field":"x","type":"quantitative","axis":null},"y":{"field":"v","type":"quantitative","axis":null},
    "color":{"field":"series","type":"nominal","scale":{"domain":["DEM based Dataset-9","Predicted Results Dataset-9","DEM based Dataset-10","Predicted Results Dataset-10"],"range":["#3b9a93","#16198c","#7d2885","#fb7f4e"]},
     "legend":{"title":null,"encode":{"symbols":{"update":{"shape":{"signal":"test(/DEM/, datum.value) ? 'M-1,0H-0.64M-0.44,0H-0.2M0.2,0H0.44M0.64,0H1M0.24,0A0.24,0.24 0 1 1 -0.24,0A0.24,0.24 0 1 1 0.24,0Z' : 'M-1,0H1'"},"fill":{"signal":"test(/DEM/, datum.value) ? (test(/(5|7|9|11)$/, datum.value) ? '#3b9a93' : '#7d2885') : 'transparent'"},"stroke":{"signal":"test(/DEM/, datum.value) ? '#8c8c8c' : (test(/(5|7|9|11)$/, datum.value) ? '#16198c' : '#fb7f4e')"},"strokeWidth":{"value":1.5},"opacity":{"value":1}}}}}}}},
  {"transform":[{"filter":"datum.k == 'B'"}],"mark":{"type":"line","strokeWidth":2,"clip":true},
   "encoding":{"x":{"field":"x","type":"quantitative","axis":{"orient":"bottom","values":[0,0.1,0.2,0.3,0.4,0.5],"format":".1f","title":"Distance (m)","titlePadding":1,"labelFlush":false,"grid":true}},
    "y":{"field":"v","type":"quantitative","axis":{"orient":"left","values":[0,0.09,0.18,0.27,0.36,0.45],"format":".2f","title":"Fine fraction","grid":true}},
    "color":{"field":"series","type":"nominal","scale":{"domain":["DEM based Dataset-9","Predicted Results Dataset-9","DEM based Dataset-10","Predicted Results Dataset-10"],"range":["#3b9a93","#16198c","#7d2885","#fb7f4e"]},
     "legend":{"title":null,"encode":{"symbols":{"update":{"shape":{"signal":"test(/DEM/, datum.value) ? 'M-1,0H-0.64M-0.44,0H-0.2M0.2,0H0.44M0.64,0H1M0.24,0A0.24,0.24 0 1 1 -0.24,0A0.24,0.24 0 1 1 0.24,0Z' : 'M-1,0H1'"},"fill":{"signal":"test(/DEM/, datum.value) ? (test(/(5|7|9|11)$/, datum.value) ? '#3b9a93' : '#7d2885') : 'transparent'"},"stroke":{"signal":"test(/DEM/, datum.value) ? '#8c8c8c' : (test(/(5|7|9|11)$/, datum.value) ? '#16198c' : '#fb7f4e')"},"strokeWidth":{"value":1.5},"opacity":{"value":1}}}}}}}},
  {"transform":[{"filter":"datum.k == 'C'"}],"mark":{"type":"line","color":"#8c8c8c","strokeDash":[4,3],"strokeWidth":1.2,"clip":true},
   "encoding":{"x":{"field":"x","type":"quantitative","axis":null},"y":{"field":"v","type":"quantitative","axis":null}}},
  {"transform":[{"filter":"datum.k == 'C'"}],"mark":{"type":"point","filled":true,"size":40,"opacity":1,"clip":true},
   "encoding":{"x":{"field":"x","type":"quantitative","axis":null},"y":{"field":"v","type":"quantitative","axis":null},
    "color":{"field":"series","type":"nominal","legend":null}}},
  {"transform":[{"filter":"datum.k == 'D'"}],"mark":{"type":"line","strokeWidth":2,"clip":true},
   "encoding":{"x":{"field":"x","type":"quantitative","axis":null},"y":{"field":"v","type":"quantitative","axis":null},
    "color":{"field":"series","type":"nominal","legend":null}}}
 ]},
{"width":482,"height":360,"title":{"text":"(d)"},"data":{"name":"d"},
 "transform":[{"fold":["A","B","C","D"],"as":["k","v"]},{"lookup":"k","from":{"data":{"name":"nd"},"key":"k","fields":["series"]}}],
 "resolve":{"axis":{"x":"independent","y":"independent"}},
 "layer":[
  {"transform":[{"filter":"datum.k == 'A'"}],"mark":{"type":"line","color":"#8c8c8c","strokeDash":[4,3],"strokeWidth":1.2,"clip":true},
   "encoding":{"x":{"field":"x","type":"quantitative","scale":{"domain":[0,0.5],"nice":false},"axis":{"orient":"top","values":[0.02,0.04,0.06,0.08,0.12,0.14,0.16,0.18,0.22,0.24,0.26,0.28,0.32,0.34,0.36,0.38,0.42,0.44,0.46,0.48],"labels":false,"ticks":false,"domain":false,"title":null,"grid":true,"gridColor":"#e3e3e3","minExtent":0,"maxExtent":0}},
    "y":{"field":"v","type":"quantitative","scale":{"domain":[0,0.45],"nice":false},"axis":{"orient":"right","values":[0.018,0.036,0.054,0.072,0.108,0.126,0.144,0.162,0.198,0.216,0.234,0.252,0.288,0.306,0.324,0.342,0.378,0.396,0.414,0.432],"labels":false,"ticks":false,"domain":false,"title":null,"grid":true,"gridColor":"#e3e3e3","minExtent":0,"maxExtent":0}}}},
  {"transform":[{"filter":"datum.k == 'A'"}],"mark":{"type":"point","filled":true,"size":40,"opacity":1,"clip":true},
   "encoding":{"x":{"field":"x","type":"quantitative","axis":null},"y":{"field":"v","type":"quantitative","axis":null},
    "color":{"field":"series","type":"nominal","scale":{"domain":["DEM based Dataset-11","Predicted Results Dataset-11","DEM based Dataset-12","Predicted Results Dataset-12"],"range":["#3b9a93","#16198c","#7d2885","#fb7f4e"]},
     "legend":{"title":null,"encode":{"symbols":{"update":{"shape":{"signal":"test(/DEM/, datum.value) ? 'M-1,0H-0.64M-0.44,0H-0.2M0.2,0H0.44M0.64,0H1M0.24,0A0.24,0.24 0 1 1 -0.24,0A0.24,0.24 0 1 1 0.24,0Z' : 'M-1,0H1'"},"fill":{"signal":"test(/DEM/, datum.value) ? (test(/(5|7|9|11)$/, datum.value) ? '#3b9a93' : '#7d2885') : 'transparent'"},"stroke":{"signal":"test(/DEM/, datum.value) ? '#8c8c8c' : (test(/(5|7|9|11)$/, datum.value) ? '#16198c' : '#fb7f4e')"},"strokeWidth":{"value":1.5},"opacity":{"value":1}}}}}}}},
  {"transform":[{"filter":"datum.k == 'B'"}],"mark":{"type":"line","strokeWidth":2,"clip":true},
   "encoding":{"x":{"field":"x","type":"quantitative","axis":{"orient":"bottom","values":[0,0.1,0.2,0.3,0.4,0.5],"format":".1f","title":"Distance (m)","titlePadding":1,"labelFlush":false,"grid":true}},
    "y":{"field":"v","type":"quantitative","axis":{"orient":"left","values":[0,0.09,0.18,0.27,0.36,0.45],"format":".2f","title":null,"grid":true}},
    "color":{"field":"series","type":"nominal","scale":{"domain":["DEM based Dataset-11","Predicted Results Dataset-11","DEM based Dataset-12","Predicted Results Dataset-12"],"range":["#3b9a93","#16198c","#7d2885","#fb7f4e"]},
     "legend":{"title":null,"encode":{"symbols":{"update":{"shape":{"signal":"test(/DEM/, datum.value) ? 'M-1,0H-0.64M-0.44,0H-0.2M0.2,0H0.44M0.64,0H1M0.24,0A0.24,0.24 0 1 1 -0.24,0A0.24,0.24 0 1 1 0.24,0Z' : 'M-1,0H1'"},"fill":{"signal":"test(/DEM/, datum.value) ? (test(/(5|7|9|11)$/, datum.value) ? '#3b9a93' : '#7d2885') : 'transparent'"},"stroke":{"signal":"test(/DEM/, datum.value) ? '#8c8c8c' : (test(/(5|7|9|11)$/, datum.value) ? '#16198c' : '#fb7f4e')"},"strokeWidth":{"value":1.5},"opacity":{"value":1}}}}}}}},
  {"transform":[{"filter":"datum.k == 'C'"}],"mark":{"type":"line","color":"#8c8c8c","strokeDash":[4,3],"strokeWidth":1.2,"clip":true},
   "encoding":{"x":{"field":"x","type":"quantitative","axis":null},"y":{"field":"v","type":"quantitative","axis":null}}},
  {"transform":[{"filter":"datum.k == 'C'"}],"mark":{"type":"point","filled":true,"size":40,"opacity":1,"clip":true},
   "encoding":{"x":{"field":"x","type":"quantitative","axis":null},"y":{"field":"v","type":"quantitative","axis":null},
    "color":{"field":"series","type":"nominal","legend":null}}},
  {"transform":[{"filter":"datum.k == 'D'"}],"mark":{"type":"line","strokeWidth":2,"clip":true},
   "encoding":{"x":{"field":"x","type":"quantitative","axis":null},"y":{"field":"v","type":"quantitative","axis":null},
    "color":{"field":"series","type":"nominal","legend":null}}}
 ]}
]
}
